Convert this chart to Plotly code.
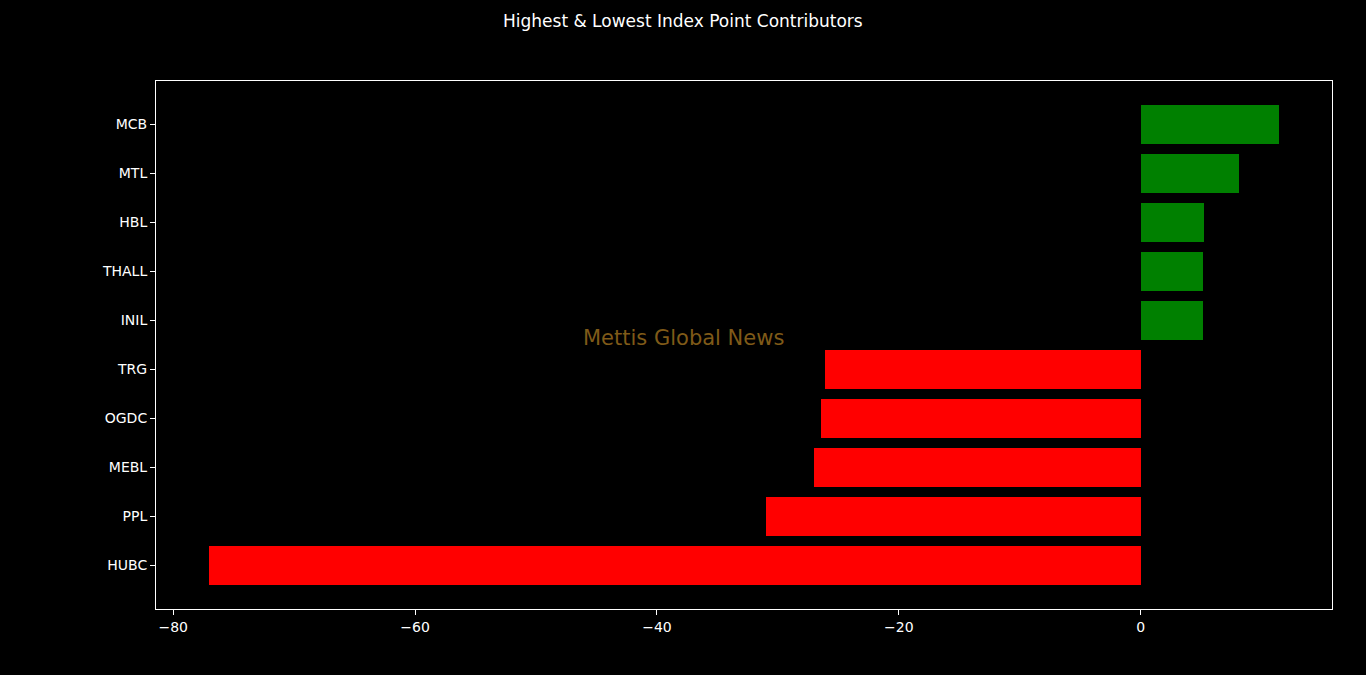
import plotly.graph_objects as go

categories = ["HUBC", "PPL", "MEBL", "OGDC", "TRG", "INIL", "THALL", "HBL", "MTL", "MCB"]
values = [-77.0, -31.0, -27.0, -26.4, -26.1, 5.13, 5.15, 5.2, 8.1, 11.4]
x_ticks = [-80, -60, -40, -20, 0]

colors = ["#008000" if v >= 0 else "#ff0000" for v in values]
ypos = list(range(len(categories)))

W, H = 1366, 675
L, R, T, B = 156, 34, 81, 66

fig = go.Figure(go.Bar(
    x=values, y=ypos, orientation="h", width=0.8,
    marker=dict(color=colors, line=dict(width=0)),
))

vmin, vmax = min(min(values), 0), max(max(values), 0)
span = vmax - vmin
ymin, ymax = -0.4, len(categories) - 1 + 0.4
yspan = ymax - ymin

font = "DejaVu Sans"
fig.update_layout(
    width=W, height=H,
    margin=dict(l=L, r=R, t=T, b=B, autoexpand=False),
    paper_bgcolor="black", plot_bgcolor="black",
    showlegend=False,
    bargap=0,
    font=dict(family=font, color="white", size=14),
    xaxis=dict(
        range=[vmin - 0.05 * span, vmax + 0.05 * span],
        tickvals=x_ticks, ticks="outside", ticklen=5, tickwidth=1, tickcolor="white",
        showgrid=False, zeroline=False, showline=True, mirror=True,
        linecolor="white", linewidth=1, tickfont=dict(size=14, color="white"),
    ),
    yaxis=dict(
        range=[ymin - 0.05 * yspan, ymax + 0.05 * yspan],
        tickvals=ypos, ticktext=categories, ticks="outside", ticklen=5, tickwidth=1,
        tickcolor="white", showgrid=False, zeroline=False, showline=True, mirror=True,
        linecolor="white", linewidth=1, tickfont=dict(size=14, color="white"),
    ),
    annotations=[
        dict(text="Highest & Lowest Index Point Contributors", xref="paper", yref="paper",
             x=(W / 2 - L) / (W - L - R), y=(H - 21 - B) / (H - T - B),
             showarrow=False, xanchor="center", yanchor="middle",
             font=dict(size=17, color="white", family=font)),
        dict(text="Mettis Global News", xref="paper", yref="paper",
             x=(W / 2 - L) / (W - L - R), y=(H / 2 - B) / (H - T - B),
             showarrow=False, xanchor="center", yanchor="middle",
             font=dict(size=21, color="#7f5a18", family=font)),
    ],
)

fig.write_html(
    "out.html",
    config={"displayModeBar": False},
    post_script="document.body.style.margin='0';document.body.style.background='black';",
)
